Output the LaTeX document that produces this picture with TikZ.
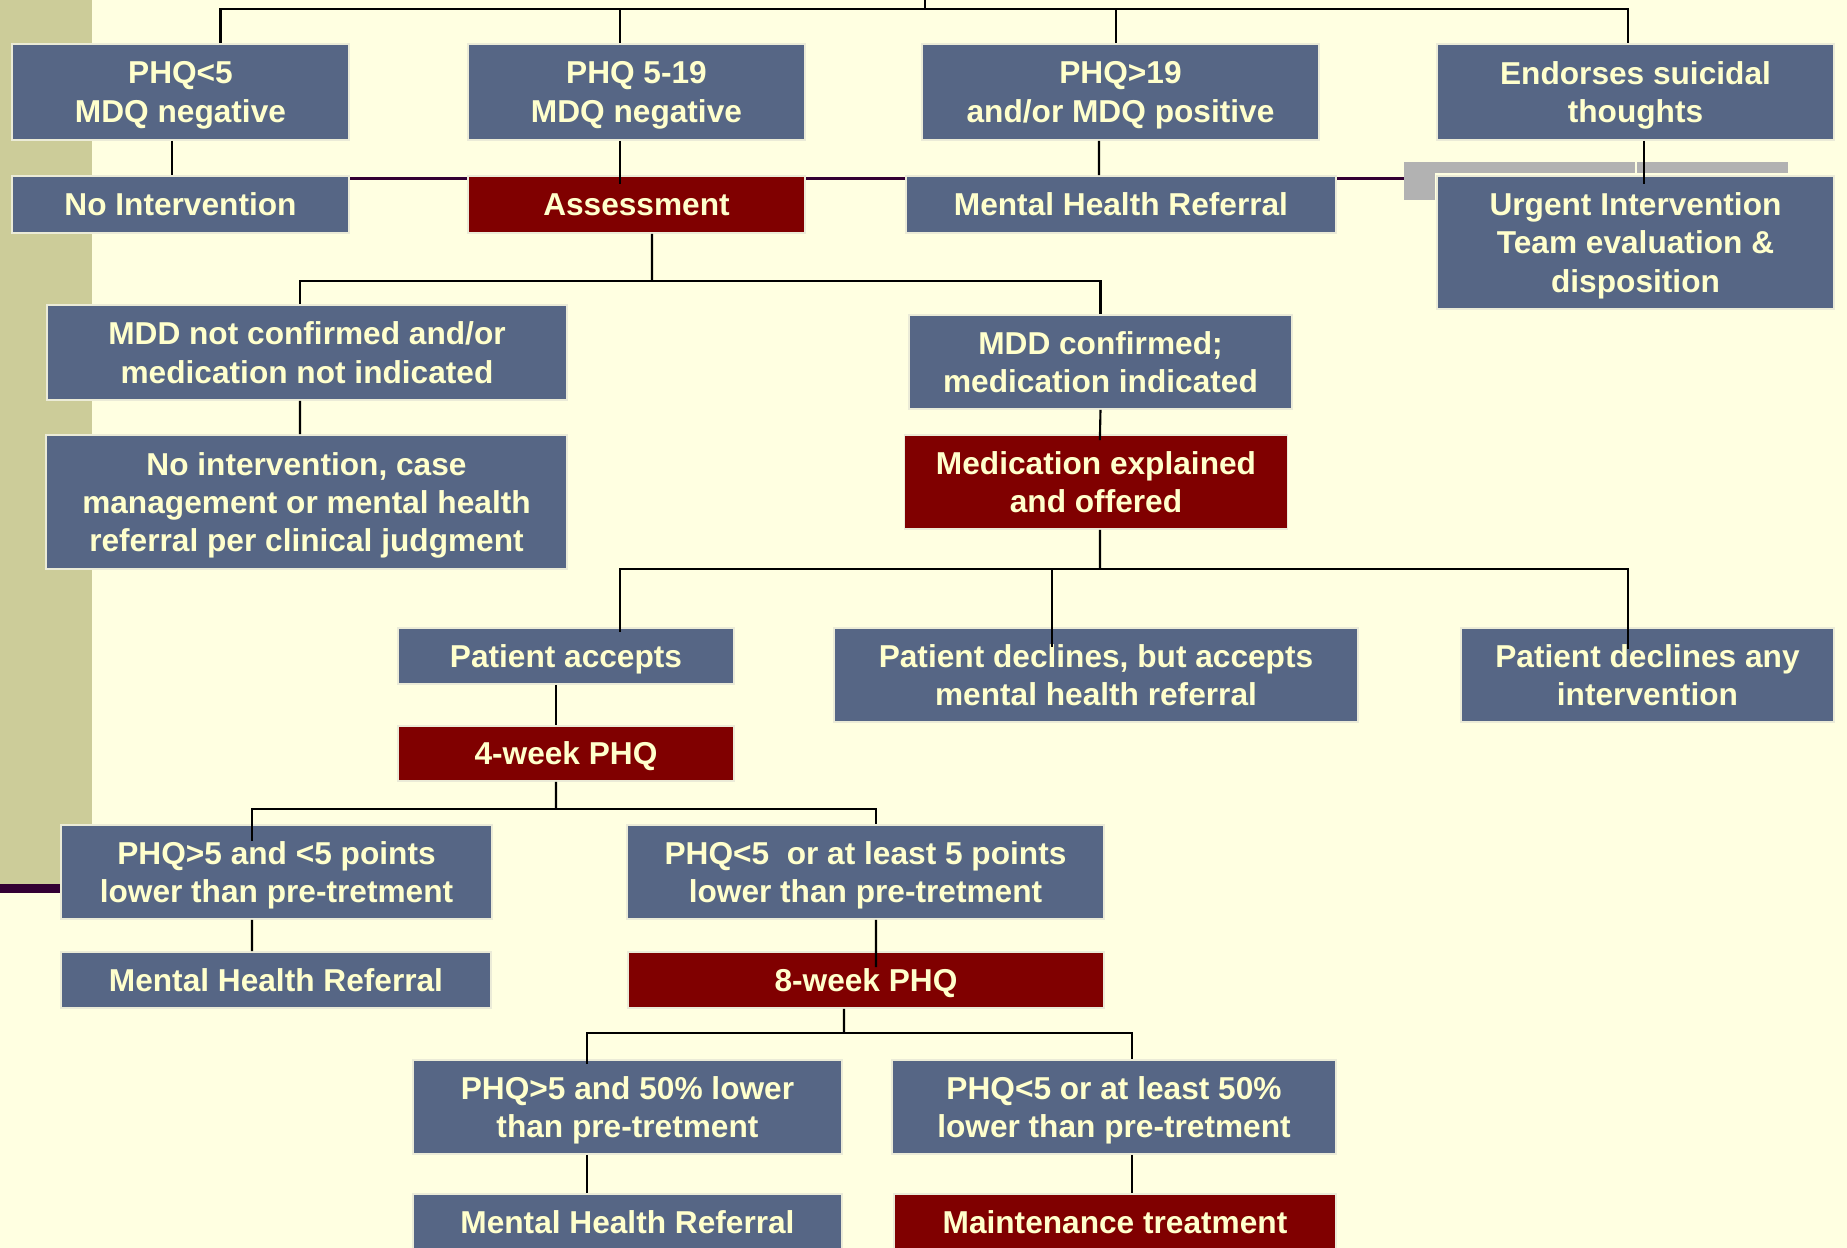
\documentclass[tikz,border=0pt]{standalone}
\usepackage{fontspec}
\setmainfont{Liberation Sans}
\usetikzlibrary{calc}

\definecolor{slidebg}{RGB}{255,255,225}
\definecolor{bandkhaki}{RGB}{204,204,153}
\definecolor{boxblue}{RGB}{86,102,133}
\definecolor{boxred}{RGB}{128,0,0}
\definecolor{boxtext}{RGB}{255,255,204}
\definecolor{barpurple}{RGB}{51,0,51}
\definecolor{bargray}{RGB}{178,178,178}
\definecolor{boxedge}{RGB}{235,235,215}

\begin{document}
\begin{tikzpicture}[x=0.01cm, y=-0.01cm]
     % Define styles
     \tikzstyle{box} = [draw=boxedge, line width=0.5pt, text=boxtext, align=center, inner sep=0pt,
                        text depth=0pt, font=\fontsize{9}{10.9}\selectfont\bfseries]
     \tikzstyle{bluebox} = [box, fill=boxblue]
     \tikzstyle{redbox} = [box, fill=boxred]
     \tikzstyle{link} = [line width=0.6pt]

     % Slide background
     \clip (0,0) rectangle (1847,1248);
     \fill[slidebg] (0,0) rectangle (1847,1248);
     \fill[bandkhaki] (0,0) rectangle (92,884);
     \fill[barpurple] (0,884) rectangle (70,893);
     \fill[barpurple] (340,176.5) rectangle (1410,179.5);
     \fill[bargray] (1404,162) rectangle (1788,173);
     \fill[bargray] (1404,162) rectangle (1435,200);
     \fill[slidebg] (1635,162) rectangle (1637,173);

     % Screening results
     \node[bluebox, minimum width=3.37cm, minimum height=0.96cm] (phqlow)  at (180.5,92)  {PHQ<5\\MDQ negative};
     \node[bluebox, minimum width=3.37cm, minimum height=0.96cm] (phqmid)  at (636.5,92)  {PHQ 5-19\\MDQ negative};
     \node[bluebox, minimum width=3.97cm, minimum height=0.96cm] (phqhigh) at (1120.5,92) {PHQ>19\\and/or MDQ positive};
     \node[bluebox, minimum width=3.97cm, minimum height=0.96cm] (suicid)  at (1635.5,92) {Endorses suicidal\\thoughts};

     % First actions
     \node[bluebox, minimum width=3.37cm, minimum height=0.57cm] (noint)  at (180.5,204.5) {No Intervention};
     \node[redbox,  minimum width=3.37cm, minimum height=0.57cm] (assess) at (636.5,204.5) {Assessment};
     \node[bluebox, minimum width=4.30cm, minimum height=0.57cm] (mhrtop) at (1121,204.5)  {Mental Health Referral};
     \node[bluebox, minimum width=3.97cm, minimum height=1.33cm] (urgent) at (1635.5,242.5) {Urgent Intervention\\Team evaluation \&\\disposition};

     % Assessment outcome
     \node[bluebox, minimum width=5.20cm, minimum height=0.95cm] (mddno)  at (307,352.5)  {MDD not confirmed and/or\\medication not indicated};
     \node[bluebox, minimum width=3.83cm, minimum height=0.94cm] (mddyes) at (1100.5,362) {MDD confirmed;\\medication indicated};
     \node[bluebox, minimum width=5.21cm, minimum height=1.34cm] (nointcase) at (306.5,502) {No intervention, case\\management or mental health\\referral per clinical judgment};
     \node[redbox,  minimum width=3.83cm, minimum height=0.94cm] (medexp) at (1096,482)    {Medication explained\\and offered};

     % Patient choice
     \node[bluebox, minimum width=3.36cm, minimum height=0.56cm] (accepts) at (566,656)    {Patient accepts};
     \node[bluebox, minimum width=5.24cm, minimum height=0.94cm] (declref) at (1096,675)   {Patient declines, but accepts\\mental health referral};
     \node[bluebox, minimum width=3.73cm, minimum height=0.94cm] (declany) at (1647.5,675) {Patient declines any\\intervention};
     \node[redbox,  minimum width=3.36cm, minimum height=0.55cm] (weekfour) at (566,753.5) {4-week PHQ};

     % 4-week follow up
     \node[bluebox, minimum width=4.31cm, minimum height=0.94cm] (fourbad)  at (276.5,872) {PHQ>5 and <5 points\\lower than pre-tretment};
     \node[bluebox, minimum width=4.77cm, minimum height=0.94cm] (fourgood) at (865.5,872) {PHQ<5 \ or at least 5 points\\lower than pre-tretment};
     \node[bluebox, minimum width=4.30cm, minimum height=0.56cm] (mhrfour)  at (276,980)   {Mental Health Referral};
     \node[redbox,  minimum width=4.76cm, minimum height=0.56cm] (weekeight) at (866,980)  {8-week PHQ};

     % 8-week follow up
     \node[bluebox, minimum width=4.29cm, minimum height=0.94cm] (eightbad)  at (627.5,1107) {PHQ>5 and 50\% lower\\than pre-tretment};
     \node[bluebox, minimum width=4.44cm, minimum height=0.94cm] (eightgood) at (1114,1107)  {PHQ<5 or at least 50\%\\lower than pre-tretment};
     \node[bluebox, minimum width=4.29cm, minimum height=0.56cm] (mhreight)  at (627.5,1222) {Mental Health Referral};
     \node[redbox,  minimum width=4.42cm, minimum height=0.56cm] (maint)     at (1115,1222)  {Maintenance treatment};

     % Connectors
     \coordinate (top)  at (925,0);
     \coordinate (bus1) at (925,9);
     \coordinate (bus2) at (652,281);
     \coordinate (bus3) at (1100,569);
     \coordinate (bus4) at (556,809);
     \coordinate (bus5) at (844,1033);

     \draw[link] (top) -- (bus1);
     \draw[link] (bus1) -| ([xshift=0.4cm]phqlow.north);
     \draw[link] (bus1) -| ([xshift=-0.165cm]phqmid.north);
     \draw[link] (bus1) -| ([xshift=-0.045cm]phqhigh.north);
     \draw[link] (bus1) -| ([xshift=-0.075cm]suicid.north);

     \draw[link] ([xshift=-0.085cm]phqlow.south) -- ([xshift=-0.085cm]noint.north);
     \draw[link, shorten >=-0.09cm] ([xshift=-0.165cm]phqmid.south) -- ([xshift=-0.165cm]assess.north);
     \draw[link] ([xshift=-0.215cm]phqhigh.south) -- ([xshift=-0.22cm]mhrtop.north);
     \draw[link, shorten >=-0.09cm] ([xshift=0.085cm]suicid.south) -- ([xshift=0.085cm]urgent.north);

     \draw[link] ([xshift=0.155cm]assess.south) -- (bus2);
     \draw[link] (bus2) -| ([xshift=-0.07cm]mddno.north);
     \draw[link] (bus2) -| (mddyes.north);
     \draw[link] ([xshift=-0.07cm]mddno.south) -- ([xshift=-0.065cm]nointcase.north);
     \draw[link, shorten >=-0.06cm] (mddyes.south) -- ([xshift=0.04cm]medexp.north);

     \draw[link] ([xshift=0.04cm]medexp.south) -- (bus3);
     \draw[link, shorten >=-0.05cm] (bus3) -| ([xshift=0.54cm]accepts.north);
     \draw[link, shorten >=-0.2cm] (bus3) -| ([xshift=-0.44cm]declref.north);
     \draw[link, shorten >=-0.22cm] (bus3) -| ([xshift=-0.195cm]declany.north);
     \draw[link] ([xshift=-0.1cm]accepts.south) -- ([xshift=-0.1cm]weekfour.north);

     \draw[link] ([xshift=-0.1cm]weekfour.south) -- (bus4);
     \draw[link, shorten >=-0.17cm] (bus4) -| ([xshift=-0.245cm]fourbad.north);
     \draw[link] (bus4) -| ([xshift=0.105cm]fourgood.north);
     \draw[link] ([xshift=-0.245cm]fourbad.south) -- ([xshift=-0.24cm]mhrfour.north);
     \draw[link, shorten >=-0.16cm] ([xshift=0.105cm]fourgood.south) -- ([xshift=0.1cm]weekeight.north);

     \draw[link] ([xshift=-0.22cm]weekeight.south) -- (bus5);
     \draw[link, shorten >=-0.05cm] (bus5) -| ([xshift=-0.405cm]eightbad.north);
     \draw[link] (bus5) -| ([xshift=0.18cm]eightgood.north);
     \draw[link] ([xshift=-0.405cm]eightbad.south) -- ([xshift=-0.405cm]mhreight.north);
     \draw[link] ([xshift=0.18cm]eightgood.south) -- ([xshift=0.17cm]maint.north);
\end{tikzpicture}
\end{document}
